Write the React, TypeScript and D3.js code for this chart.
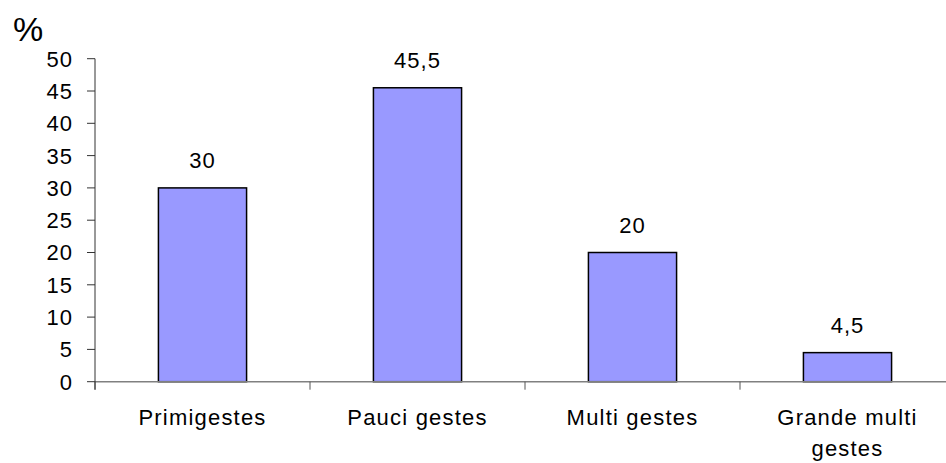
import React from "react";
import * as d3 from "d3";

const categories: string[][] = [["Primigestes"], ["Pauci gestes"], ["Multi gestes"], ["Grande multi", "gestes"]];
const values: number[] = [30, 45.5, 20, 4.5];
const valueLabels: string[] = ["30", "45,5", "20", "4,5"];
const yTicks: number[] = [0, 5, 10, 15, 20, 25, 30, 35, 40, 45, 50];

const W = 946;
const H = 463;
const left = 95;
const top = 58.7;
const bottom = 381.7;
const font = "'Liberation Sans', Arial, sans-serif";

export default function App() {
  const y = d3.scaleLinear().domain([0, 50]).range([bottom, top]);
  const x = d3.scaleBand<number>().domain(d3.range(categories.length)).range([left, left + 860]).paddingInner(0.59).paddingOuter(0.295);
  const step = x.step();
  return (
    <svg width={W} height={H} style={{ position: "absolute", left: 0, top: 0, background: "#fff" }}>
      <text x={13} y={41} fontFamily={font} fontSize={34} fill="#000">%</text>
      {yTicks.map((t) => (
        <g key={t}>
          <line x1={left - 8} x2={left} y1={y(t)} y2={y(t)} stroke="#333" strokeWidth={1} />
          <text x={73} y={y(t)} dy="0.36em" textAnchor="end" fontFamily={font} fontSize={22} letterSpacing={1} fill="#000">{t}</text>
        </g>
      ))}
      {values.map((v, i) => (
        <g key={i}>
          <rect x={x(i)!} y={y(v)} width={x.bandwidth()} height={bottom - y(v)} fill="#9999FF" stroke="#000" strokeWidth={1.5} />
          <text x={x(i)! + x.bandwidth() / 2} y={y(v) - 20} textAnchor="middle" fontFamily={font} fontSize={22} letterSpacing={1} fill="#000">{valueLabels[i]}</text>
        </g>
      ))}
      <line x1={left} x2={W} y1={bottom} y2={bottom} stroke="#808080" strokeWidth={1.5} />
      {d3.range(categories.length).map((i) => (
        <line key={i} x1={left + i * step} x2={left + i * step} y1={bottom} y2={bottom + 8} stroke="#555" strokeWidth={1} />
      ))}
      <line x1={left} x2={left} y1={top} y2={bottom + 8} stroke="#333" strokeWidth={1} />
      {categories.map((lines, i) => (
        <text key={i} textAnchor="middle" fontFamily={font} fontSize={22} letterSpacing={1.2} fill="#000">
          {lines.map((l, j) => (
            <tspan key={j} x={x(i)! + x.bandwidth() / 2} y={425 + j * 31}>{l}</tspan>
          ))}
        </text>
      ))}
    </svg>
  );
}
